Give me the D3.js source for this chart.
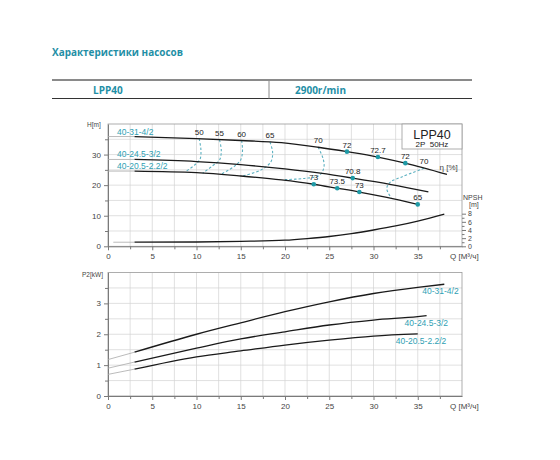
<!DOCTYPE html>
<html>
<head>
<meta charset="utf-8">
<script src="https://cdn.jsdelivr.net/npm/d3@7"></script>
<style>
    body { margin: 0; background: #fff; }
    svg text { font-family: "Liberation Sans", Arial, sans-serif; }
</style>
</head>
<body>
<svg id="chart"></svg>
<script>
// pump models
const models = ["40-31-4/2", "40-24.5-3/2", "40-20.5-2.2/2"];

// Q-H curves, [Q m3/h, H m]
const head31 = [[3, 35.9], [10, 35.2], [15, 34.6], [19.6, 33.9], [23.75, 32.4], [27, 30.95], [30.5, 29.2], [33.6, 27.2], [38.3, 23.5]];
const head24 = [[3, 28.4], [10, 27.7], [15, 26.7], [20, 25.3], [24, 23.9], [27.65, 22.3], [32, 20.2], [36.2, 17.8]];
const head20 = [[3, 24.6], [10, 24.1], [15, 23.0], [19.6, 21.7], [23.25, 20.3], [25.9, 19.0], [28.4, 17.75], [31.5, 16.0], [35, 13.7]];
const headAtZero = [35.9, 28.4, 24.6];

// NPSH curve, [Q, NPSH m]
const npsh = [[3, 1.0], [10, 1.05], [15, 1.2], [20, 1.5], [22.5, 1.9], [25, 2.4], [27.5, 3.1], [30, 4.0], [32.5, 5.0], [35, 6.2], [38, 7.9]];
const npshLead = [[0.6, 1.0], [3, 1.0]];

// efficiency points on the H curves, [Q, H, label]
const effPoints = [
    [27, 30.95, "72"], [30.5, 29.2, "72.7"], [33.6, 27.2, "72"],
    [27.65, 22.3, "70.8"],
    [23.25, 20.3, "73"], [25.9, 19.0, "73.5"], [28.4, 17.75, "73"], [35, 13.7, "65"]
];

// iso-efficiency lines (dashed), [Q, H]
const isoLabels = ["50", "55", "60", "65", "70", "70"];
const isoLines = [
    [[10.3, 35.2], [10.5, 31.5], [10.4, 28.5], [9.8, 26.6], [8.7, 24.3]],
    [[12.6, 34.8], [12.8, 31.4], [12.6, 28.2], [11.8, 26.3], [10.7, 23.9]],
    [[15.1, 34.6], [15.2, 31.4], [15.0, 28.3], [14.3, 26.2], [12.8, 23.6]],
    [[18.3, 34.1], [18.6, 30.8], [18.4, 27.6], [17.3, 25.0], [15.2, 23.0]],
    [[23.75, 32.4], [24.3, 28.7], [24.4, 25.9], [23.9, 23.2], [22.2, 22.2], [19.8, 21.8]],
    [[35.7, 25.5], [33.2, 22.7], [31.9, 21.0], [31.5, 18.9], [32.0, 15.8]]
];

// Q-P2 curves, [Q, P2 kW]
const power31 = [[3, 1.42], [10, 2.0], [15, 2.37], [20, 2.73], [25, 3.05], [30, 3.32], [35, 3.52], [38, 3.62]];
const power24 = [[3, 1.1], [10, 1.55], [15, 1.85], [20, 2.08], [25, 2.3], [30, 2.46], [35, 2.57], [36, 2.6]];
const power20 = [[3, 0.87], [10, 1.27], [15, 1.46], [20, 1.65], [25, 1.81], [30, 1.94], [35, 2.01]];
const powerAtZero = [1.18, 0.9, 0.7];

const qTicks = [0, 5, 10, 15, 20, 25, 30, 35];
const hTicks = [0, 10, 20, 30];
const npshTicks = [0, 2, 4, 6, 8];
const pTicks = [0, 1, 2, 3];

const width = 560;
const height = 460;
const teal = "#2f9fb4";
const gridColor = "#d2d2d2";
const axisColor = "#7a7a7a";

const svg = d3.select("#chart")
    .attr("width", width)
    .attr("height", height);

// Header
svg.append("text")
    .attr("x", 52).attr("y", 56)
    .attr("textLength", 131).attr("lengthAdjust", "spacingAndGlyphs")
    .style("font-family", "'Open Sans'")
    .style("font-weight", "bold")
    .style("font-size", "11px")
    .style("fill", "#1f8fa6")
    .text("Характеристики насосов");

svg.append("line").attr("x1", 52).attr("x2", 472).attr("y1", 80).attr("y2", 80)
    .style("stroke", "#8a8a8a").style("stroke-width", 2);
svg.append("line").attr("x1", 52).attr("x2", 472).attr("y1", 98.5).attr("y2", 98.5)
    .style("stroke", "#333").style("stroke-width", 1.2);
svg.append("line").attr("x1", 269).attr("x2", 269).attr("y1", 80).attr("y2", 98.5)
    .style("stroke", "#8a8a8a").style("stroke-width", 1);
svg.append("text").attr("x", 93).attr("y", 93.5)
    .style("font-family", "'Open Sans'").style("font-weight", "bold")
    .style("font-size", "10px").style("fill", "#1f8fa6").text("LPP40");
svg.append("text").attr("x", 295).attr("y", 93.5)
    .style("font-family", "'Open Sans'").style("font-weight", "bold")
    .style("font-size", "10px").style("fill", "#1f8fa6").text("2900r/min");

// Plot areas
const topBox = { left: 108, right: 462, top: 124, bottom: 246.3 };
const botBox = { left: 108, right: 462, top: 272.5, bottom: 396 };

const xTop = d3.scaleLinear().domain([0, 40]).range([topBox.left, topBox.right]);
const yHead = d3.scaleLinear().domain([0, 40]).range([topBox.bottom, topBox.top]);
const yNpsh = d3.scaleLinear().domain([0, 30]).range([topBox.bottom, topBox.top]);
const xBot = d3.scaleLinear().domain([0, 40]).range([botBox.left, botBox.right]);
const yPow = d3.scaleLinear().domain([0, 4]).range([botBox.bottom, botBox.top]);

function drawGrid(box, xs, ys, yStep, yMax) {
    const g = svg.append("g");
    g.selectAll(".gx").data(d3.range(2.5, 40, 2.5)).enter().append("line")
        .attr("x1", d => xs(d)).attr("x2", d => xs(d))
        .attr("y1", box.top).attr("y2", box.bottom)
        .style("stroke", gridColor).style("stroke-width", 0.7);
    g.selectAll(".gy").data(d3.range(yStep, yMax, yStep)).enter().append("line")
        .attr("x1", box.left).attr("x2", box.right)
        .attr("y1", d => ys(d)).attr("y2", d => ys(d))
        .style("stroke", gridColor).style("stroke-width", 0.7);
    g.append("rect")
        .attr("x", box.left).attr("y", box.top)
        .attr("width", box.right - box.left).attr("height", box.bottom - box.top)
        .style("fill", "none").style("stroke", "#9a9a9a").style("stroke-width", 0.8);
}

function styleAxis(g) {
    g.selectAll("path, line").style("stroke", axisColor);
    g.selectAll("text").style("font-size", "8px").style("fill", "#444");
}

function drawAxes(box, xs, ys, yTicks, yMinor) {
    const ax = svg.append("g")
        .attr("transform", `translate(0, ${box.bottom})`)
        .call(d3.axisBottom(xs).tickValues(qTicks).tickSize(4).tickSizeOuter(0).tickPadding(3));
    styleAxis(ax);
    const axm = svg.append("g")
        .attr("transform", `translate(0, ${box.bottom})`)
        .call(d3.axisBottom(xs).tickValues(d3.range(2.5, 40, 5)).tickSize(3).tickSizeOuter(0).tickFormat(""));
    styleAxis(axm);
    axm.select(".domain").remove();

    const ay = svg.append("g")
        .attr("transform", `translate(${box.left}, 0)`)
        .call(d3.axisLeft(ys).tickValues(yTicks).tickFormat(d3.format("d"))
            .tickSize(4).tickSizeOuter(0).tickPadding(3));
    styleAxis(ay);
    const aym = svg.append("g")
        .attr("transform", `translate(${box.left}, 0)`)
        .call(d3.axisLeft(ys).tickValues(yMinor).tickSize(3).tickSizeOuter(0).tickFormat(""));
    styleAxis(aym);
    aym.select(".domain").remove();
}

drawGrid(topBox, xTop, yHead, 5, 40);
drawGrid(botBox, xBot, yPow, 0.5, 4);
drawAxes(topBox, xTop, yHead, hTicks, [5, 15, 25, 35]);
drawAxes(botBox, xBot, yPow, pTicks, [0.5, 1.5, 2.5, 3.5]);

// NPSH axis on the right edge
const an = svg.append("g")
    .attr("transform", `translate(${topBox.right}, 0)`)
    .call(d3.axisRight(yNpsh).tickValues(npshTicks).tickSize(4).tickSizeOuter(0).tickPadding(2));
styleAxis(an);
an.select(".domain").remove();
an.selectAll("text").style("font-size", "7px");
const anm = svg.append("g")
    .attr("transform", `translate(${topBox.right}, 0)`)
    .call(d3.axisRight(yNpsh).tickValues([1, 3, 5, 7]).tickSize(2.5).tickFormat(""));
styleAxis(anm);
anm.select(".domain").remove();

// Axis titles
function label(x, y, txt, size) {
    return svg.append("text").attr("x", x).attr("y", y)
        .style("font-size", size + "px").style("fill", "#444").text(txt);
}
label(87, 127, "H[m]", 6.5);
label(82, 277, "P2[kW]", 6.5);
label(450, 259, "Q [M³/ч]", 8);
label(450, 409, "Q [M³/ч]", 8);
label(463, 199.5, "NPSH", 7);
label(469, 206.5, "[m]", 7);
label(439.5, 170, "η [%]", 8);

// Curves
const headLine = d3.line().x(d => xTop(d[0])).y(d => yHead(d[1])).curve(d3.curveMonotoneX);
const npshLine = d3.line().x(d => xTop(d[0])).y(d => yNpsh(d[1])).curve(d3.curveMonotoneX);
const powLine = d3.line().x(d => xBot(d[0])).y(d => yPow(d[1])).curve(d3.curveMonotoneX);
const isoLine = d3.line().x(d => xTop(d[0])).y(d => yHead(d[1])).curve(d3.curveCatmullRom.alpha(0.5));

const heads = [head31, head24, head20];
const powers = [power31, power24, power20];

// thin lead-in lines from Q = 0
heads.forEach((c, i) => {
    svg.append("line")
        .attr("x1", xTop(0)).attr("x2", xTop(c[0][0]))
        .attr("y1", yHead(headAtZero[i])).attr("y2", yHead(c[0][1]))
        .style("stroke", "#aaa").style("stroke-width", 0.8);
});
svg.append("path").datum(npshLead).attr("d", npshLine)
    .style("fill", "none").style("stroke", "#aaa").style("stroke-width", 0.8);
powers.forEach((c, i) => {
    svg.append("line")
        .attr("x1", xBot(0)).attr("x2", xBot(c[0][0]))
        .attr("y1", yPow(powerAtZero[i])).attr("y2", yPow(c[0][1]))
        .style("stroke", "#aaa").style("stroke-width", 0.8);
});

// iso-efficiency dashed lines
isoLines.forEach((c, i) => {
    svg.append("path").datum(c).attr("d", isoLine)
        .style("fill", "none").style("stroke", "#5bb0c0")
        .style("stroke-width", 1.1).style("stroke-dasharray", "2.5,2");
    svg.append("text")
        .attr("x", xTop(c[0][0])).attr("y", yHead(c[0][1]) - 4)
        .style("text-anchor", "middle").style("font-size", "8px").style("fill", "#222")
        .text(isoLabels[i]);
});

heads.forEach(c => {
    svg.append("path").datum(c).attr("d", headLine)
        .style("fill", "none").style("stroke", "#1a1a1a").style("stroke-width", 1.3);
});
svg.append("path").datum(npsh).attr("d", npshLine)
    .style("fill", "none").style("stroke", "#1a1a1a").style("stroke-width", 1.3);
powers.forEach(c => {
    svg.append("path").datum(c).attr("d", powLine)
        .style("fill", "none").style("stroke", "#1a1a1a").style("stroke-width", 1.3);
});

// efficiency points
svg.selectAll(".eff").data(effPoints).enter().append("circle")
    .attr("cx", d => xTop(d[0])).attr("cy", d => yHead(d[1])).attr("r", 2.3)
    .style("fill", "#1f9aa6");
svg.selectAll(".effl").data(effPoints).enter().append("text")
    .attr("x", d => xTop(d[0])).attr("y", d => yHead(d[1]) - 4)
    .style("text-anchor", "middle").style("font-size", "8px").style("fill", "#222")
    .text(d => d[2]);

// model labels
models.forEach((m, i) => {
    svg.append("text")
        .attr("x", xTop(0) + 9).attr("y", yHead(headAtZero[i]) - 2)
        .style("font-size", "8.5px").style("fill", teal).text(m);
    const end = powers[i][powers[i].length - 1];
    svg.append("text")
        .attr("x", xBot(end[0]) - 22).attr("y", yPow(end[1]) + 10)
        .style("font-size", "8.5px").style("fill", teal).text(m);
});

// LPP40 box
svg.append("rect")
    .attr("x", 402).attr("y", topBox.top).attr("width", topBox.right - 402).attr("height", 25)
    .style("fill", "#fff").style("stroke", "#9a9a9a").style("stroke-width", 0.8);
svg.append("text").attr("x", 432).attr("y", 138.5)
    .style("text-anchor", "middle").style("font-size", "12.5px").style("fill", "#222").text("LPP40");
svg.append("text").attr("x", 432).attr("y", 147)
    .style("text-anchor", "middle").style("font-size", "8px").style("fill", "#222")
    .attr("xml:space", "preserve").text("2P  50Hz");
</script>
</body>
</html>
